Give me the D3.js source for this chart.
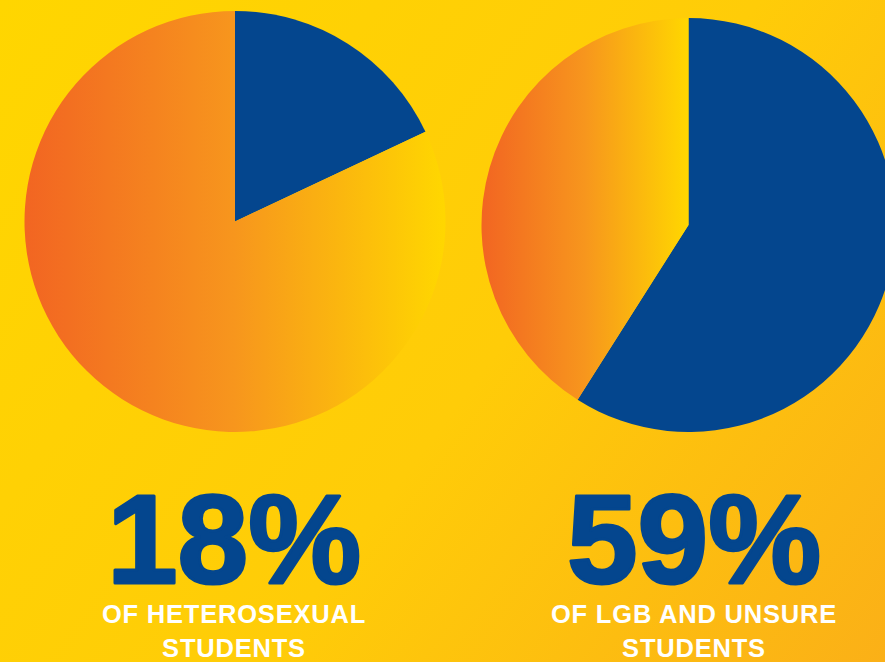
<!DOCTYPE html>
<html>
<head>
<meta charset="utf-8">
<script src="https://cdn.jsdelivr.net/npm/d3@7"></script>
<style>
  html, body { margin: 0; padding: 0; overflow: hidden; }
  svg { display: block; }
</style>
</head>
<body>
<svg id="chart" width="885" height="662"></svg>
<script>
// data ---------------------------------
var groups  = ["heterosexual", "lgb_unsure"]
var shares  = [18, 59]
var labels  = ["18%", "59%"]
var caption = [["OF HETEROSEXUAL", "STUDENTS"], ["OF LGB AND UNSURE", "STUDENTS"]]

var blue = "#04468e"

var svg = d3.select("#chart"),
	width = +svg.attr("width"),
	height = +svg.attr("height");

var defs = svg.append("defs")

var bg = defs.append("linearGradient")
	.attr("id", "bg")
	.attr("gradientUnits", "userSpaceOnUse")
	.attr("x1", 0).attr("y1", 0)
	.attr("x2", width).attr("y2", height)
bg.append("stop").attr("offset", 0).attr("stop-color", "#ffd600")
bg.append("stop").attr("offset", 0.55).attr("stop-color", "#ffcc08")
bg.append("stop").attr("offset", 1).attr("stop-color", "#fbb017")

var warm = defs.append("linearGradient")
	.attr("id", "warm")
	.attr("x1", 0).attr("y1", 0)
	.attr("x2", 1).attr("y2", 0)
warm.append("stop").attr("offset", 0).attr("stop-color", "#f26522")
warm.append("stop").attr("offset", 0.5).attr("stop-color", "#f7961d")
warm.append("stop").attr("offset", 1).attr("stop-color", "#ffd700")

svg.append("rect")
	.attr("width", width)
	.attr("height", height)
	.attr("fill", "url(#bg)")

// layout
var centers = [[235, 221.5], [688.5, 225]]
var radii   = [210.5, 207]
var textX   = [234, 694]

var pie = d3.pie().sort(null).value(d => d)

var g = svg.selectAll("g.pie")
	.data(groups)
	.enter().append("g")
	.attr("class", "pie")
	.attr("transform", (d, i) => `translate(${centers[i]})`)

g.selectAll("path")
	.data((d, i) => pie([shares[i], 100 - shares[i]]).map(a => Object.assign(a, {r: radii[i]})))
	.enter().append("path")
	.attr("d", d => d3.arc().innerRadius(0).outerRadius(d.r)(d))
	.attr("fill", (d, j) => j == 0 ? blue : "url(#warm)")

var txt = svg.selectAll("g.label")
	.data(groups)
	.enter().append("g")
	.attr("class", "label")
	.attr("transform", (d, i) => `translate(${textX[i]},0)`)

txt.append("text")
	.attr("y", 583)
	.attr("text-anchor", "middle")
	.attr("font-family", "'Liberation Sans', Arial, sans-serif")
	.attr("font-weight", "bold")
	.attr("font-size", 127)
	.attr("fill", blue)
	.attr("stroke", blue)
	.attr("stroke-width", 3)
	.attr("stroke-linejoin", "round")
	.text((d, i) => labels[i])

txt.selectAll("text.cap")
	.data((d, i) => caption[i])
	.enter().append("text")
	.attr("class", "cap")
	.attr("y", (d, j) => 623 + j * 34)
	.attr("text-anchor", "middle")
	.attr("font-family", "'Liberation Sans', Arial, sans-serif")
	.attr("font-weight", "bold")
	.attr("font-size", 25.5)
	.attr("letter-spacing", 0.8)
	.attr("fill", "#fff")
	.text(d => d)
</script>
</body>
</html>
